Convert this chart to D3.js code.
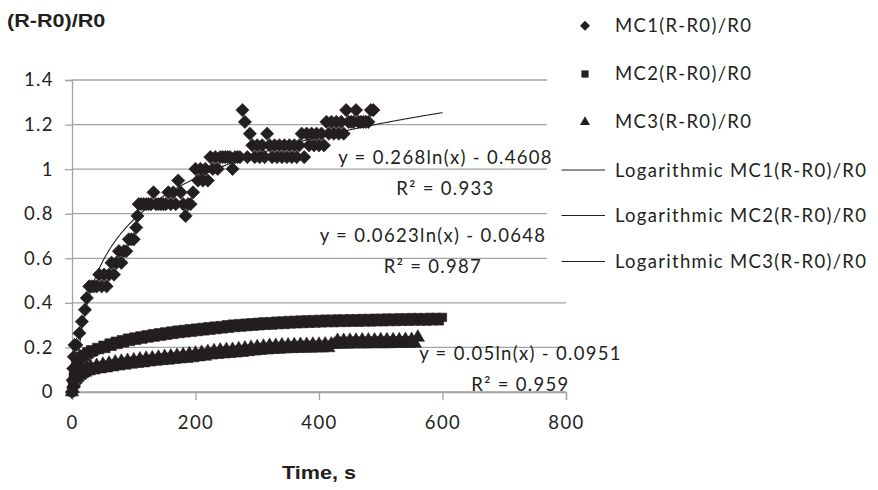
<!DOCTYPE html>
<html>
<head>
<meta charset="utf-8">
<script src="https://cdn.jsdelivr.net/npm/d3@7"></script>
<style>
  body { margin: 0; background: #fff; }
  text { font-family: Lato, "Open Sans", sans-serif; fill: #231f20; }
</style>
</head>
<body>
<div id="chart"></div>
<script>
// MC1 (R-R0)/R0 readings
const mc1Time = [
  0, 1, 2, 3, 4, 7, 12, 16, 21, 24,
  28, 32, 36, 40, 44, 48, 52, 56, 60, 64,
  68, 72, 76, 80, 84, 88, 92, 96, 100, 104,
  106, 108, 112, 116, 120, 124, 128, 132, 136, 140,
  144, 148, 152, 156, 160, 164, 168, 172, 176, 180,
  184, 188, 192, 196, 200, 204, 208, 212, 216, 220,
  224, 228, 232, 236, 240, 244, 248, 252, 256, 260,
  264, 268, 272, 276, 280, 284, 288, 292, 296, 300,
  304, 308, 312, 316, 320, 324, 328, 332, 336, 340,
  344, 348, 352, 356, 360, 364, 368, 372, 376, 380,
  384, 388, 392, 396, 400, 404, 408, 412, 416, 420,
  424, 428, 432, 436, 440, 444, 448, 452, 456, 460,
  464, 468, 472, 476, 480, 484, 488
];
const mc1Value = [
  0, 0.053, 0.105, 0.158, 0.211, 0.211, 0.264, 0.316, 0.369, 0.422,
  0.474, 0.474, 0.474, 0.474, 0.527, 0.474, 0.527, 0.474, 0.527, 0.58,
  0.527, 0.58, 0.632, 0.58, 0.632, 0.632, 0.685, 0.685, 0.685, 0.738,
  0.79, 0.843, 0.843, 0.843, 0.843, 0.843, 0.843, 0.896, 0.843, 0.843,
  0.843, 0.843, 0.843, 0.896, 0.843, 0.896, 0.843, 0.949, 0.896, 0.843,
  0.79, 0.843, 0.843, 0.896, 1.001, 0.949, 1.001, 0.949, 1.001, 0.949,
  1.054, 1.001, 1.054, 1.001, 1.054, 1.054, 1.054, 1.054, 1.054, 1.001,
  1.054, 1.054, 1.054, 1.265, 1.212, 1.054, 1.159, 1.107, 1.054, 1.107,
  1.054, 1.107, 1.054, 1.159, 1.107, 1.054, 1.107, 1.054, 1.107, 1.054,
  1.107, 1.054, 1.107, 1.054, 1.107, 1.054, 1.107, 1.159, 1.054, 1.159,
  1.107, 1.159, 1.107, 1.159, 1.107, 1.159, 1.107, 1.212, 1.159, 1.212,
  1.159, 1.212, 1.159, 1.212, 1.159, 1.265, 1.212, 1.212, 1.212, 1.265,
  1.212, 1.212, 1.212, 1.212, 1.212, 1.265, 1.265
];

// MC2 (R-R0)/R0 readings
const mc2Time = [
  0, 1, 2, 3, 4, 5, 6, 8, 10, 12,
  14, 16, 18, 21, 24, 27, 30, 35, 40, 45,
  50, 55, 60, 65, 70, 75, 80, 85, 90, 95,
  100, 105, 110, 115, 120, 125, 130, 135, 140, 145,
  150, 155, 160, 165, 170, 175, 180, 185, 190, 195,
  200, 205, 210, 215, 220, 225, 230, 235, 240, 245,
  250, 255, 260, 265, 270, 275, 280, 285, 290, 295,
  300, 305, 310, 315, 320, 325, 330, 335, 340, 345,
  350, 355, 360, 365, 370, 375, 380, 385, 390, 395,
  400, 405, 410, 415, 420, 425, 430, 435, 440, 445,
  450, 455, 460, 465, 470, 475, 480, 485, 490, 495,
  500, 505, 510, 515, 520, 525, 530, 535, 540, 545,
  550, 555, 560, 565, 570, 575, 580, 585, 590, 595,
  600
];
const mc2Value = [
  0, 0.03, 0.07, 0.08, 0.105, 0.1, 0.125, 0.12, 0.145, 0.14,
  0.16, 0.15, 0.17, 0.16, 0.18, 0.17, 0.19, 0.18, 0.2, 0.19,
  0.21, 0.195, 0.22, 0.205, 0.228, 0.213, 0.235, 0.22, 0.242, 0.227,
  0.247, 0.232, 0.252, 0.237, 0.257, 0.242, 0.262, 0.246, 0.266, 0.25,
  0.27, 0.254, 0.274, 0.258, 0.278, 0.262, 0.281, 0.265, 0.284, 0.268,
  0.287, 0.271, 0.29, 0.274, 0.293, 0.277, 0.296, 0.28, 0.298, 0.283,
  0.302, 0.286, 0.305, 0.289, 0.307, 0.291, 0.309, 0.293, 0.311, 0.295,
  0.313, 0.297, 0.315, 0.299, 0.316, 0.3, 0.318, 0.302, 0.319, 0.303,
  0.321, 0.305, 0.322, 0.306, 0.323, 0.307, 0.324, 0.308, 0.325, 0.309,
  0.326, 0.31, 0.327, 0.311, 0.327, 0.311, 0.328, 0.312, 0.328, 0.312,
  0.329, 0.313, 0.329, 0.313, 0.33, 0.314, 0.33, 0.314, 0.331, 0.315,
  0.331, 0.315, 0.332, 0.316, 0.332, 0.316, 0.333, 0.317, 0.333, 0.317,
  0.334, 0.318, 0.334, 0.318, 0.334, 0.318, 0.335, 0.319, 0.335, 0.319,
  0.335
];

// MC3 (R-R0)/R0 readings
const mc3Time = [
  0, 1, 2, 3, 4, 5, 6, 8, 10, 12,
  14, 16, 18, 21, 24, 27, 30, 35, 40, 45,
  50, 55, 60, 65, 70, 75, 80, 85, 90, 95,
  100, 105, 110, 115, 120, 125, 130, 135, 140, 145,
  150, 155, 160, 165, 170, 175, 180, 185, 190, 195,
  200, 205, 210, 215, 220, 225, 230, 235, 240, 245,
  250, 255, 260, 265, 270, 275, 280, 285, 290, 295,
  300, 305, 310, 315, 320, 325, 330, 335, 340, 345,
  350, 355, 360, 365, 370, 375, 380, 385, 390, 395,
  400, 405, 410, 415, 420, 425, 430, 435, 440, 445,
  450, 455, 460, 465, 470, 475, 480, 485, 490, 495,
  500, 505, 510, 515, 520, 525, 530, 535, 540, 545,
  550, 555, 560
];
const mc3Value = [
  0, 0.015, 0.035, 0.04, 0.06, 0.055, 0.072, 0.065, 0.085, 0.075,
  0.095, 0.082, 0.1, 0.088, 0.108, 0.094, 0.113, 0.098, 0.118, 0.103,
  0.123, 0.107, 0.128, 0.112, 0.133, 0.116, 0.137, 0.12, 0.14, 0.124,
  0.143, 0.127, 0.147, 0.13, 0.15, 0.134, 0.152, 0.137, 0.155, 0.14,
  0.158, 0.142, 0.16, 0.145, 0.163, 0.148, 0.166, 0.15, 0.17, 0.153,
  0.173, 0.157, 0.176, 0.16, 0.18, 0.165, 0.184, 0.168, 0.187, 0.17,
  0.189, 0.172, 0.19, 0.174, 0.193, 0.177, 0.196, 0.18, 0.199, 0.183,
  0.202, 0.186, 0.204, 0.188, 0.207, 0.19, 0.208, 0.191, 0.21, 0.193,
  0.21, 0.194, 0.211, 0.195, 0.212, 0.196, 0.212, 0.196, 0.213, 0.197,
  0.213, 0.197, 0.214, 0.198, 0.214, 0.213, 0.23, 0.214, 0.23, 0.214,
  0.231, 0.215, 0.231, 0.215, 0.232, 0.215, 0.232, 0.216, 0.232, 0.216,
  0.233, 0.216, 0.233, 0.216, 0.233, 0.217, 0.233, 0.217, 0.234, 0.217,
  0.234, 0.218, 0.245
];

// logarithmic trendlines as printed on the chart: y = a ln(x) + b
const seriesNames = ['MC1(R-R0)/R0', 'MC2(R-R0)/R0', 'MC3(R-R0)/R0'];
const trendA = [0.268, 0.0623, 0.05];
const trendB = [-0.4608, -0.0648, -0.0951];
const trendR2 = ['0.933', '0.987', '0.959'];
const trendEnd = [600, 600, 560];
const trendLabels = ['y = 0.268ln(x) - 0.4608', 'y = 0.0623ln(x) - 0.0648', 'y = 0.05ln(x) - 0.0951'];

const xTicks = [0, 200, 400, 600, 800];
const yTicks = [0, 0.2, 0.4, 0.6, 0.8, 1, 1.2, 1.4];
const yTickLabels = ['0', '0.2', '0.4', '0.6', '0.8', '1', '1.2', '1.4'];

const width = 878;
const height = 490;
const ink = '#231f20';
const grid = '#a3a3a3';

const svg = d3.select('#chart')
  .append('svg')
  .attr('width', width)
  .attr('height', height);

const x = d3.scaleLinear().domain([0, 800]).range([72, 566]);
const y = d3.scaleLinear().domain([0, 1.4]).range([392, 80]);

// gridlines
svg.append('g')
  .selectAll('line')
  .data(yTicks)
  .enter()
  .append('line')
  .attr('x1', x(0))
  .attr('x2', x(800))
  .attr('y1', d => y(d))
  .attr('y2', d => y(d))
  .attr('stroke', grid)
  .attr('stroke-width', 1.3);

// y axis
const yAxis = svg.append('g')
  .attr('transform', 'translate(' + x(0) + ',0)')
  .call(d3.axisLeft(y).tickValues(yTicks).tickSize(7).tickPadding(11)
    .tickFormat((d, i) => yTickLabels[i]));

// x axis
const xAxis = svg.append('g')
  .attr('transform', 'translate(0,' + y(0) + ')')
  .call(d3.axisBottom(x).tickValues(xTicks).tickSize(8).tickPadding(16)
    .tickFormat(d3.format('d')));

[yAxis, xAxis].forEach(ax => {
  ax.select('.domain').attr('stroke', grid).attr('stroke-width', 1.3);
  ax.selectAll('.tick line').attr('stroke', grid).attr('stroke-width', 1.3);
  ax.selectAll('.tick text')
    .style('font-family', 'Lato, sans-serif')
    .style('font-size', '18.5px')
    .style('letter-spacing', '1.4px')
    .attr('fill', ink);
});

// legend background sits over the plot area, as in the original
svg.append('rect')
  .attr('x', 547).attr('y', 0)
  .attr('width', width - 547).attr('height', 285)
  .attr('fill', '#fff');

// trendlines
svg.append('clipPath').attr('id', 'plotClip')
  .append('rect')
  .attr('x', x(0)).attr('y', y(1.4))
  .attr('width', x(800) - x(0)).attr('height', y(0) - y(1.4));

const trendLine = d3.line()
  .x(d => x(d[0]))
  .y(d => y(d[1]));

trendA.forEach((a, i) => {
  const pts = d3.range(1, trendEnd[i] + 1, 1).map(t => [t, a * Math.log(t) + trendB[i]]);
  svg.append('path')
    .attr('clip-path', 'url(#plotClip)')
    .attr('d', trendLine(pts))
    .attr('fill', 'none')
    .attr('stroke', ink)
    .attr('stroke-width', 1.1);
});

// markers (a thin outline in the same ink gives them the weight of the original)
const diamond = d3.symbol().type(d3.symbolSquare).size(88);
const square = d3.symbol().type(d3.symbolSquare).size(70);
const triangle = d3.symbol().type(d3.symbolTriangle).size(78);

function drawSeries(times, values, sym, rotate) {
  svg.append('g')
    .selectAll('path')
    .data(times.map((t, i) => [t, values[i]]))
    .enter()
    .append('path')
    .attr('d', sym())
    .attr('transform', d => 'translate(' + x(d[0]) + ',' + y(d[1]) + ')' + (rotate ? ' rotate(45)' : ''))
    .attr('fill', ink)
    .attr('stroke', ink)
    .attr('stroke-width', 0.6);
}

drawSeries(mc3Time, mc3Value, triangle, false);
drawSeries(mc2Time, mc2Value, square, false);
drawSeries(mc1Time, mc1Value, diamond, true);

// trendline equations
const eqX = [445.5, 433, 520.5];
const eqY = [164, 241.7, 360];
trendLabels.forEach((lbl, i) => {
  const g = svg.append('text')
    .attr('text-anchor', 'middle')
    .style('font-size', '18.5px')
    .style('letter-spacing', '1.3px');
  g.append('tspan').attr('x', eqX[i]).attr('y', eqY[i]).text(lbl);
  g.append('tspan').attr('x', eqX[i]).attr('y', eqY[i] + 31).text('R² = ' + trendR2[i]);
});

// legend
const legendRowsY = [31.7, 80, 128, 176.5, 222, 268];
const legendSyms = [
  d3.symbol().type(d3.symbolSquare).size(50),
  d3.symbol().type(d3.symbolSquare).size(52),
  d3.symbol().type(d3.symbolTriangle).size(44)
];
seriesNames.forEach((name, i) => {
  svg.append('path')
    .attr('d', legendSyms[i]())
    .attr('transform', 'translate(585,' + (legendRowsY[i] - 6) + ')' + (i === 0 ? ' rotate(45)' : ''))
    .attr('fill', ink);
  svg.append('text')
    .attr('x', 615).attr('y', legendRowsY[i])
    .style('font-size', '18.5px')
    .style('letter-spacing', '1.3px')
    .text(name);
});
seriesNames.forEach((name, i) => {
  const ly = legendRowsY[i + 3];
  svg.append('line')
    .attr('x1', 561.5).attr('x2', 605)
    .attr('y1', ly - 6.5).attr('y2', ly - 6.5)
    .attr('stroke', ink)
    .attr('stroke-width', 1.2);
  svg.append('text')
    .attr('x', 615).attr('y', ly)
    .style('font-size', '18.5px')
    .style('letter-spacing', '1.3px')
    .text('Logarithmic ' + name);
});

// axis titles
svg.append('text')
  .attr('transform', 'translate(7,27) scale(1.2,1)')
  .style('font-family', '"Liberation Sans", Arial, sans-serif')
  .style('font-weight', 'bold')
  .style('font-size', '18px')
  .text('(R-R0)/R0');

svg.append('text')
  .attr('transform', 'translate(' + ((x(0) + x(800)) / 2) + ',479) scale(1.2,1)')
  .attr('text-anchor', 'middle')
  .style('font-family', '"Liberation Sans", Arial, sans-serif')
  .style('font-weight', 'bold')
  .style('font-size', '18px')
  .text('Time, s');
</script>
</body>
</html>
